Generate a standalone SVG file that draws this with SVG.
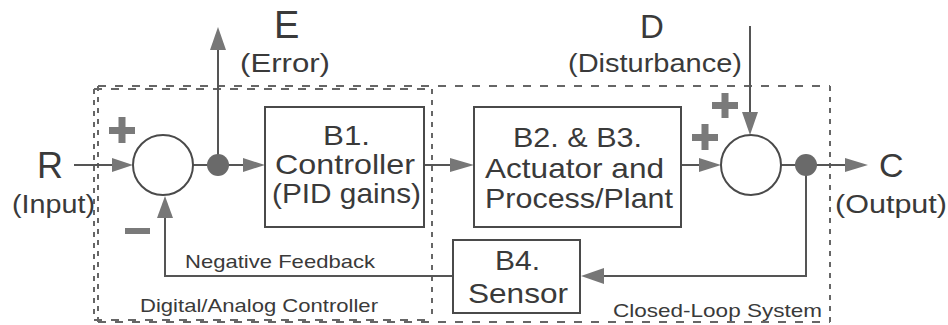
<svg xmlns="http://www.w3.org/2000/svg" width="948" height="325" viewBox="0 0 948 325">
<style>
  text { font-family: "Liberation Sans", Arial, sans-serif; fill: #3a3a3a; }
  .big { font-size: 28px; }
  .lbl { font-size: 26px; }
  .sm { font-size: 19px; }
  .box { fill: #fff; stroke: #4a4a4a; stroke-width: 2; }
  .sum { fill: #fff; stroke: #4a4a4a; stroke-width: 2; }
  .ln { fill: none; stroke: #555; stroke-width: 2; }
  .dot { fill: #6a6a6a; }
  .hd { fill: #777; }
  .sign { fill: #7a7a7a; }
  .dh { fill: none; stroke: #666; stroke-width: 2; stroke-dasharray: 8 9; }
  .dv { fill: none; stroke: #666; stroke-width: 2; stroke-dasharray: 5 6; }
</style>

<g id="closed-loop-boundary">
  <line class="dh" x1="98" y1="86" x2="830" y2="86"/>
  <line class="dh" x1="98" y1="322" x2="830" y2="322"/>
  <line class="dv" x1="98" y1="86" x2="98" y2="322"/>
  <line class="dv" x1="830" y1="86" x2="830" y2="322"/>
  <text class="sm" x="613" y="317" textLength="209" lengthAdjust="spacingAndGlyphs">Closed-Loop System</text>
</g>

<g id="controller-boundary">
  <line class="dh" x1="94" y1="89" x2="432" y2="89"/>
  <line class="dh" x1="94" y1="320" x2="432" y2="320"/>
  <line class="dv" x1="94" y1="89" x2="94" y2="320"/>
  <line class="dv" x1="432" y1="89" x2="432" y2="320"/>
  <text class="sm" x="140" y="312" textLength="238" lengthAdjust="spacingAndGlyphs">Digital/Analog Controller</text>
</g>

<g id="connectors">
  <!-- R input -->
  <line class="ln" x1="74" y1="165" x2="114" y2="165"/>
  <polygon class="hd" points="133,165 112,158 112,172"/>
  <!-- sum1 to dot -->
  <line class="ln" x1="193" y1="165" x2="245" y2="165"/>
  <polygon class="hd" points="265,165 243,158 243,172"/>
  <!-- E upward -->
  <line class="ln" x1="218" y1="165" x2="218" y2="48"/>
  <polygon class="hd" points="218,27 210,50 226,50"/>
  <!-- B1 to B2 -->
  <line class="ln" x1="424" y1="165" x2="452" y2="165"/>
  <polygon class="hd" points="474,165 450,158 450,172"/>
  <!-- B2 to sum2 -->
  <line class="ln" x1="681" y1="165" x2="701" y2="165"/>
  <polygon class="hd" points="721,165 699,158 699,172"/>
  <!-- D downward -->
  <line class="ln" x1="750" y1="26" x2="750" y2="114"/>
  <polygon class="hd" points="750,135 742,112 758,112"/>
  <!-- sum2 to output -->
  <line class="ln" x1="781" y1="165" x2="847" y2="165"/>
  <polygon class="hd" points="868,165 845,158 845,172"/>
  <!-- feedback to sensor -->
  <polyline class="ln" points="806,165 806,276 602,276"/>
  <polygon class="hd" points="581,276 604,268 604,284"/>
  <!-- sensor to sum1 -->
  <polyline class="ln" points="453,276 165,276 165,216"/>
  <polygon class="hd" points="165,196 157,218 173,218"/>
  <!-- branch dots -->
  <circle class="dot" cx="218" cy="165" r="11"/>
  <circle class="dot" cx="806" cy="165" r="11"/>
</g>

<g id="R-input">
  <text x="37" y="178" style="font-size:36px">R</text>
  <text class="lbl" x="12" y="213" textLength="83" lengthAdjust="spacingAndGlyphs">(Input)</text>
</g>

<g id="E-error">
  <text x="274" y="38" style="font-size:38px">E</text>
  <text class="lbl" x="240" y="72" textLength="90" lengthAdjust="spacingAndGlyphs">(Error)</text>
</g>

<g id="D-disturbance">
  <text x="640" y="38" style="font-size:33px">D</text>
  <text class="lbl" x="568" y="72" textLength="174" lengthAdjust="spacingAndGlyphs">(Disturbance)</text>
</g>

<g id="C-output">
  <text x="879" y="177" style="font-size:34px">C</text>
  <text class="lbl" x="835" y="213" textLength="112" lengthAdjust="spacingAndGlyphs">(Output)</text>
</g>

<g id="sum1">
  <circle class="sum" cx="163" cy="165" r="30"/>
  <rect class="sign" x="109" y="127" width="26" height="7"/>
  <rect class="sign" x="118.5" y="117" width="7" height="26"/>
  <rect class="sign" x="125" y="228" width="25" height="6"/>
</g>

<g id="sum2">
  <circle class="sum" cx="751" cy="165" r="30"/>
  <rect class="sign" x="712" y="102" width="26" height="7"/>
  <rect class="sign" x="721.5" y="93" width="7" height="25"/>
  <rect class="sign" x="692" y="134" width="26" height="7"/>
  <rect class="sign" x="701.5" y="124" width="7" height="26"/>
</g>

<g id="B1">
  <rect class="box" x="265" y="107" width="159" height="120"/>
  <text class="big" x="323" y="145" textLength="47" lengthAdjust="spacingAndGlyphs">B1.</text>
  <text class="big" x="275" y="174" textLength="140" lengthAdjust="spacingAndGlyphs">Controller</text>
  <text class="big" x="272" y="203" textLength="149" lengthAdjust="spacingAndGlyphs">(PID gains)</text>
</g>

<g id="B2B3">
  <rect class="box" x="474" y="107" width="207" height="120"/>
  <text class="big" x="513" y="147" textLength="129" lengthAdjust="spacingAndGlyphs">B2. &amp; B3.</text>
  <text class="big" x="485" y="178" textLength="179" lengthAdjust="spacingAndGlyphs">Actuator and</text>
  <text class="big" x="485" y="208" textLength="188" lengthAdjust="spacingAndGlyphs">Process/Plant</text>
</g>

<g id="B4">
  <rect class="box" x="453" y="240" width="127" height="73"/>
  <text class="big" x="495" y="270" textLength="45" lengthAdjust="spacingAndGlyphs">B4.</text>
  <text class="big" x="468" y="303" textLength="100" lengthAdjust="spacingAndGlyphs">Sensor</text>
</g>

<g id="feedback-label">
  <text class="sm" x="185" y="268" textLength="190" lengthAdjust="spacingAndGlyphs">Negative Feedback</text>
</g>
</svg>
